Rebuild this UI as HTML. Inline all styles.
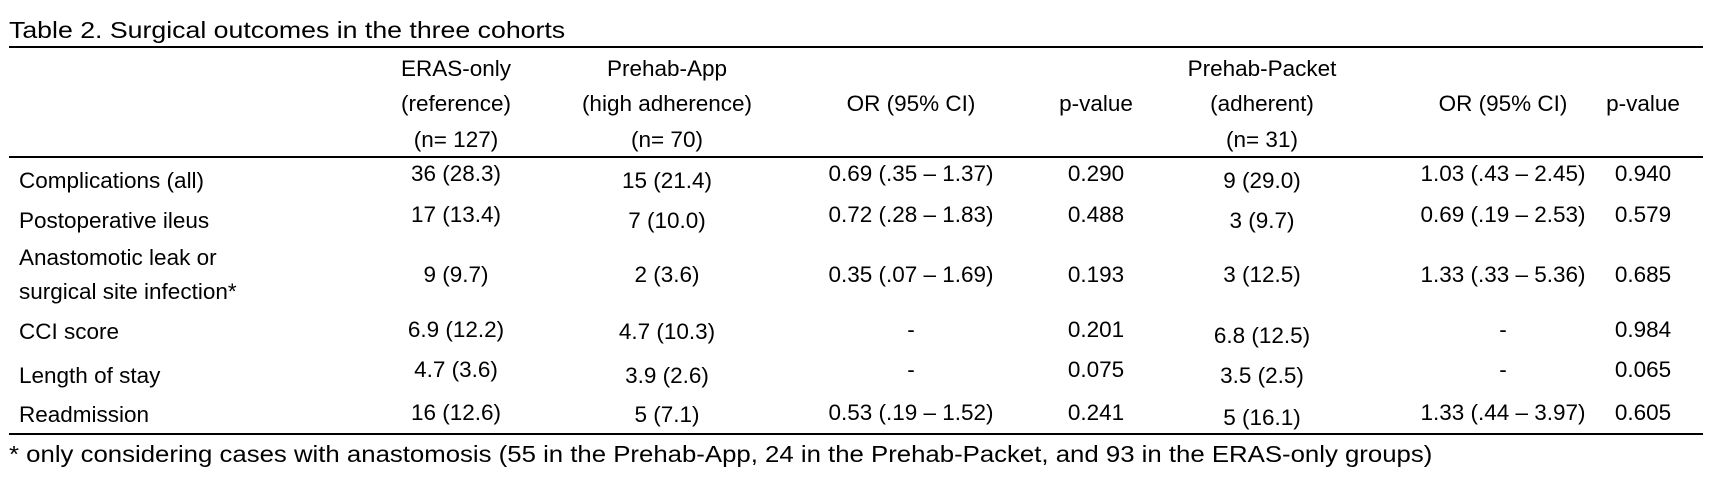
<!DOCTYPE html>
<html><head><meta charset="utf-8"><style>
body{margin:0;width:1716px;height:498px;background:#fff;position:relative;overflow:hidden;font-family:"Liberation Sans",Arial,sans-serif;color:#000}
.c{position:absolute;transform:translate(-50%,-50%);white-space:nowrap;font-size:22.5px}
.l{position:absolute;transform:translateY(-50%);white-space:nowrap;font-size:22.5px;left:19px}
.w{position:absolute;left:9px;white-space:nowrap;font-size:23px;transform-origin:0 50%}
.rule{position:absolute;left:9px;width:1694px;background:#000}
</style></head><body>
<div class="w" style="top:17px;transform:scaleX(1.16)">Table 2. Surgical outcomes in the three cohorts</div>
<div class="rule" style="top:46px;height:2px"></div>
<div class="rule" style="top:156px;height:2px"></div>
<div class="rule" style="top:433px;height:2px"></div>

<div>
<div class="c" style="left:456px;top:69px">ERAS-only</div>
<div class="c" style="left:456px;top:104px">(reference)</div>
<div class="c" style="left:456px;top:140px">(n= 127)</div>
<div class="c" style="left:667px;top:69px">Prehab-App</div>
<div class="c" style="left:667px;top:104px">(high adherence)</div>
<div class="c" style="left:667px;top:140px">(n= 70)</div>
<div class="c" style="left:911px;top:104px">OR (95% CI)</div>
<div class="c" style="left:1096px;top:104px">p-value</div>
<div class="c" style="left:1262px;top:69px">Prehab-Packet</div>
<div class="c" style="left:1262px;top:104px">(adherent)</div>
<div class="c" style="left:1262px;top:140px">(n= 31)</div>
<div class="c" style="left:1503px;top:104px">OR (95% CI)</div>
<div class="c" style="left:1643px;top:104px">p-value</div>
</div>

<div>
<div class="l" style="top:181px">Complications (all)</div>
<div class="c" style="left:456px;top:174px">36 (28.3)</div>
<div class="c" style="left:667px;top:181px">15 (21.4)</div>
<div class="c" style="left:911px;top:174px">0.69 (.35 – 1.37)</div>
<div class="c" style="left:1096px;top:174px">0.290</div>
<div class="c" style="left:1262px;top:181px">9 (29.0)</div>
<div class="c" style="left:1503px;top:174px">1.03 (.43 – 2.45)</div>
<div class="c" style="left:1643px;top:174px">0.940</div>
</div>

<div>
<div class="l" style="top:221px">Postoperative ileus</div>
<div class="c" style="left:456px;top:215px">17 (13.4)</div>
<div class="c" style="left:667px;top:221px">7 (10.0)</div>
<div class="c" style="left:911px;top:215px">0.72 (.28 – 1.83)</div>
<div class="c" style="left:1096px;top:215px">0.488</div>
<div class="c" style="left:1262px;top:221px">3 (9.7)</div>
<div class="c" style="left:1503px;top:215px">0.69 (.19 – 2.53)</div>
<div class="c" style="left:1643px;top:215px">0.579</div>
</div>

<div>
<div class="l" style="top:258px">Anastomotic leak or</div>
<div class="l" style="top:292px">surgical site infection*</div>
<div class="c" style="left:456px;top:275px">9 (9.7)</div>
<div class="c" style="left:667px;top:275px">2 (3.6)</div>
<div class="c" style="left:911px;top:275px">0.35 (.07 – 1.69)</div>
<div class="c" style="left:1096px;top:275px">0.193</div>
<div class="c" style="left:1262px;top:275px">3 (12.5)</div>
<div class="c" style="left:1503px;top:275px">1.33 (.33 – 5.36)</div>
<div class="c" style="left:1643px;top:275px">0.685</div>
</div>

<div>
<div class="l" style="top:332px">CCI score</div>
<div class="c" style="left:456px;top:330px">6.9 (12.2)</div>
<div class="c" style="left:667px;top:332px">4.7 (10.3)</div>
<div class="c" style="left:911px;top:330px">-</div>
<div class="c" style="left:1096px;top:330px">0.201</div>
<div class="c" style="left:1262px;top:336px">6.8 (12.5)</div>
<div class="c" style="left:1503px;top:330px">-</div>
<div class="c" style="left:1643px;top:330px">0.984</div>
</div>

<div>
<div class="l" style="top:376px">Length of stay</div>
<div class="c" style="left:456px;top:370px">4.7 (3.6)</div>
<div class="c" style="left:667px;top:376px">3.9 (2.6)</div>
<div class="c" style="left:911px;top:370px">-</div>
<div class="c" style="left:1096px;top:370px">0.075</div>
<div class="c" style="left:1262px;top:376px">3.5 (2.5)</div>
<div class="c" style="left:1503px;top:370px">-</div>
<div class="c" style="left:1643px;top:370px">0.065</div>
</div>

<div>
<div class="l" style="top:415px">Readmission</div>
<div class="c" style="left:456px;top:413px">16 (12.6)</div>
<div class="c" style="left:667px;top:415px">5 (7.1)</div>
<div class="c" style="left:911px;top:413px">0.53 (.19 – 1.52)</div>
<div class="c" style="left:1096px;top:413px">0.241</div>
<div class="c" style="left:1262px;top:418px">5 (16.1)</div>
<div class="c" style="left:1503px;top:413px">1.33 (.44 – 3.97)</div>
<div class="c" style="left:1643px;top:413px">0.605</div>
</div>

<div class="w" style="top:441px;transform:scaleX(1.12)">* only considering cases with anastomosis (55 in the Prehab-App, 24 in the Prehab-Packet, and 93 in the ERAS-only groups)</div>
</body></html>
